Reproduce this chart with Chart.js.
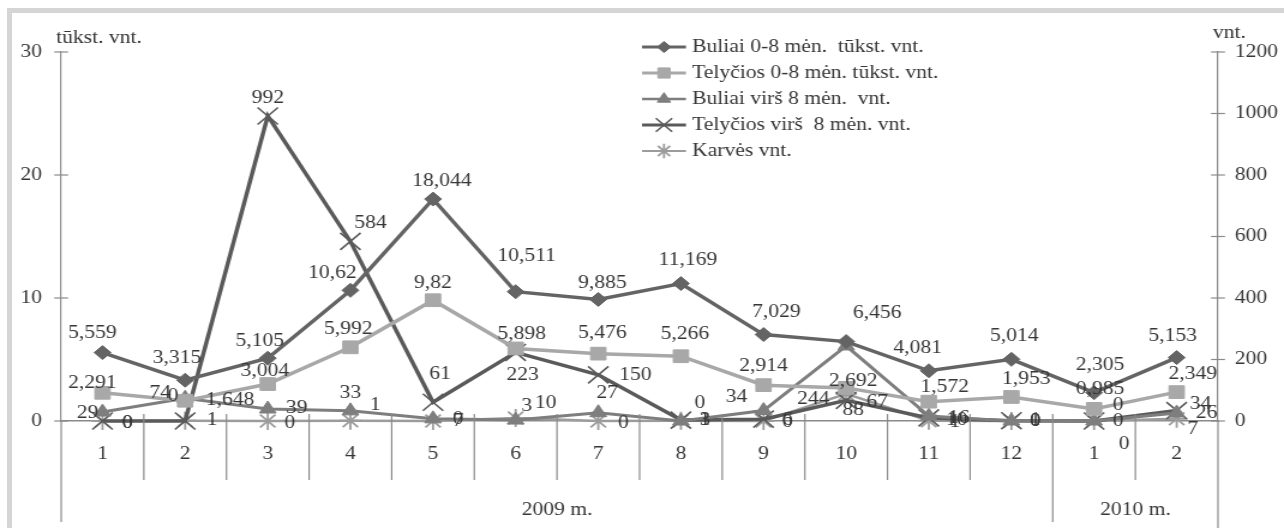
<!DOCTYPE html>
<html lang="lt">
<head>
<meta charset="utf-8">
<title>Galvijai</title>
<script src="https://cdn.jsdelivr.net/npm/chart.js@4/dist/chart.umd.min.js"></script>
<style>
  html, body { margin: 0; padding: 0; background: #ffffff; overflow: hidden; }
  #frame { position: absolute; left: 7px; top: 8px; right: 0; bottom: 0; border-top: 5px solid #d5d5d5; border-left: 5px solid #d5d5d5; }
  #wrap { position: absolute; left: 0; top: 0; width: 1070px; height: 528px; transform: scaleX(1.2); transform-origin: 0 0; }
</style>
</head>
<body>
<div id="frame"></div>
<div id="wrap"><canvas id="chart" width="1070" height="528"></canvas></div>
<script>
// months on the x axis, grouped by year
const months = ['1', '2', '3', '4', '5', '6', '7', '8', '9', '10', '11', '12', '1', '2'];
const years = ['2009 m.', '2010 m.'];
const monthsPerYear = [12, 2];

// left axis (tūkst. vnt.)
const buliai08 = [5.559, 3.315, 5.105, 10.62, 18.044, 10.511, 9.885, 11.169, 7.029, 6.456, 4.081, 5.014, 2.305, 5.153];
const telycios08 = [2.291, 1.648, 3.004, 5.992, 9.82, 5.898, 5.476, 5.266, 2.914, 2.692, 1.572, 1.953, 0.985, 2.349];
// right axis (vnt.)
const buliaiVirs8 = [29, 74, 39, 33, 7, 3, 27, 0, 34, 244, 16, 0, 0, 26];
const telyciosVirs8 = [0, 0, 992, 584, 61, 223, 150, 3, 6, 67, 10, 1, 0, 34];
const karves = [0, 1, 0, 1, 0, 10, 0, 1, 0, 88, 1, 0, 0, 7];

const leftTicks = [0, 10, 20, 30];
const rightTicks = [0, 200, 400, 600, 800, 1000, 1200];
const leftUnit = 'tūkst. vnt.';
const rightUnit = 'vnt.';

// where each value label sits relative to its point, in screen px
const labelOffsets = [
  [[-10,-19],[-8,-22],[-8,-17],[-18,-17],[9,-18],[11,-35],[4,-16],[7,-23],[13,-22],[31,-28],[-11,-23],[3,-23],[6,-27],[-4,-21]],
  [[-10,-10],[45,0],[-3,-13],[-2,-18],[0,-17],[6,-14],[4,-20],[4,-22],[0,-19],[7,-7],[16,-14],[15,-18],[6,-20],[16,-18]],
  [[-15,1],[-25,-5],[29,-1],[0,-18],[25,2],[11,-14],[9,-19],[19,-18],[-27,-13],[-33,53],[30,2],[24,0],[24,0],[30,0]],
  [[25,2],[-12,-25],[0,-18],[20,-18],[7,-28],[7,23],[37,0],[24,0],[24,1],[31,2],[28,2],[24,0],[24,-16],[24,-6]],
  [[25,2],[27,0],[22,2],[25,-15],[25,-2],[30,-15],[25,2],[24,0],[24,1],[7,16],[26,2],[24,0],[30,23],[16,10]]
];

const SX = 1.2; // the whole picture is a bit wider than tall
const FONT = 'Liberation Serif';
const ink = '#363636';
const axisColor = '#8a8a8a';

const series = [
  { label: 'Buliai 0-8 mėn.  tūkst. vnt.', data: buliai08, axis: 'yL', color: '#646464', width: 3.5, style: 'rectRot', radius: 7, pw: 1 },
  { label: 'Telyčios 0-8 mėn. tūkst. vnt.', data: telycios08, axis: 'yL', color: '#a8a8a8', width: 3.5, style: 'rect', radius: 9, pw: 1 },
  { label: 'Buliai virš 8 mėn.  vnt.', data: buliaiVirs8, axis: 'yR', color: '#7e7e7e', width: 3, style: 'triangle', radius: 8, pw: 1 },
  { label: 'Telyčios virš  8 mėn. vnt.', data: telyciosVirs8, axis: 'yR', color: '#5a5a5a', width: 3.5, style: 'crossRot', radius: 12, pw: 1.6 },
  { label: 'Karvės vnt.', data: karves, axis: 'yR', color: '#9c9c9c', width: 2.5, style: 'star', radius: 9, pw: 1.8 }
];

const fmt = v => String(v).replace('.', ',');

const extras = {
  id: 'extras',
  afterDraw(chart) {
    const ctx = chart.ctx;
    const area = chart.chartArea;
    const xs = chart.scales.x, yl = chart.scales.yL, yr = chart.scales.yR;
    const seg = (x1, y1, x2, y2) => { ctx.beginPath(); ctx.moveTo(x1, y1); ctx.lineTo(x2, y2); ctx.stroke(); };
    ctx.save();

    // axis ticks crossing the axis lines
    ctx.strokeStyle = axisColor;
    ctx.lineWidth = 1.2;
    const t = 7 / SX;
    leftTicks.forEach(v => { const y = yl.getPixelForValue(v); seg(area.left - t, y, area.left + t, y); });
    rightTicks.forEach(v => { const y = yr.getPixelForValue(v); seg(area.right - t, y, area.right + t, y); });

    // category boundaries and year groups
    const n = months.length;
    const edge = i => i === 0 ? area.left : i === n ? area.right
      : (xs.getPixelForValue(i - 1) + xs.getPixelForValue(i)) / 2;
    const groupEnds = [];
    let acc = 0;
    monthsPerYear.forEach(k => { acc += k; groupEnds.push(acc); });
    for (let i = 1; i < n; i++) {
      seg(edge(i), area.bottom - 7, edge(i), groupEnds.includes(i) ? 522 : 480);
    }
    seg(area.left, area.bottom, area.left, 522);
    seg(area.right, area.bottom, area.right, 528);

    ctx.fillStyle = ink;
    ctx.font = '18px "' + FONT + '"';
    ctx.textAlign = 'center';
    ctx.textBaseline = 'middle';
    let start = 0;
    monthsPerYear.forEach((k, g) => {
      ctx.fillText(years[g], (edge(start) + edge(start + k)) / 2, 510);
      start += k;
    });

    // units over the axes
    ctx.textAlign = 'left';
    ctx.fillText(leftUnit, 56 / SX, 38);
    ctx.fillText(rightUnit, 1213 / SX, 33);

    // value labels
    ctx.textAlign = 'center';
    series.forEach((s, i) => {
      const meta = chart.getDatasetMeta(i);
      meta.data.forEach((pt, j) => {
        const off = labelOffsets[i][j];
        ctx.fillText(fmt(s.data[j]), pt.x + off[0] / SX, pt.y + off[1]);
      });
    });

    // legend
    series.forEach((s, i) => {
      const y = 47 + 26 * i;
      ctx.strokeStyle = s.color;
      ctx.lineWidth = s.width * 0.8;
      seg(642 / SX, y, 686 / SX, y);
      ctx.fillStyle = s.color;
      ctx.lineWidth = s.pw;
      Chart.helpers.drawPoint(ctx, { pointStyle: s.style, radius: s.radius * 0.8, borderWidth: s.pw, rotation: 0 }, 664 / SX, y);
      ctx.fillStyle = ink;
      ctx.textAlign = 'left';
      ctx.fillText(s.label, 692 / SX, y);
    });

    ctx.restore();
  }
};

const tickFont = { family: FONT, size: 18 };

new Chart(document.getElementById('chart'), {
  type: 'line',
  data: {
    labels: months,
    datasets: series.map(s => ({
      label: s.label,
      data: s.data,
      yAxisID: s.axis,
      borderColor: s.color,
      backgroundColor: s.color,
      pointBackgroundColor: s.color,
      pointBorderColor: s.color,
      borderWidth: s.width,
      pointStyle: s.style,
      pointRadius: s.radius,
      pointBorderWidth: s.pw,
      tension: 0,
      fill: false,
      clip: false
    }))
  },
  options: {
    responsive: false,
    animation: false,
    devicePixelRatio: 1,
    events: [],
    layout: { padding: { top: 52, left: 0, right: 0, bottom: 0 } },
    plugins: { legend: { display: false }, tooltip: { enabled: false } },
    scales: {
      x: {
        offset: true,
        grid: { display: false, drawTicks: false },
        border: { display: true, color: axisColor, width: 1.5 },
        ticks: { color: ink, font: tickFont, padding: 22, maxRotation: 0, autoSkip: false },
        afterFit: s => { s.height = 107; }
      },
      yL: {
        position: 'left',
        min: 0, max: 30,
        grid: { display: false, drawTicks: false },
        border: { display: true, color: axisColor, width: 1.2 },
        ticks: { color: ink, font: tickFont, padding: 16, callback: v => String(v) },
        afterBuildTicks: s => { s.ticks = leftTicks.map(v => ({ value: v })); },
        afterFit: s => { s.width = 51; }
      },
      yR: {
        position: 'right',
        min: 0, max: 1200,
        grid: { display: false, drawTicks: false },
        border: { display: true, color: axisColor, width: 1.2 },
        ticks: { color: ink, font: tickFont, padding: 14, callback: v => String(v) },
        afterBuildTicks: s => { s.ticks = rightTicks.map(v => ({ value: v })); },
        afterFit: s => { s.width = 55; }
      }
    }
  },
  plugins: [extras]
});
</script>
</body>
</html>
